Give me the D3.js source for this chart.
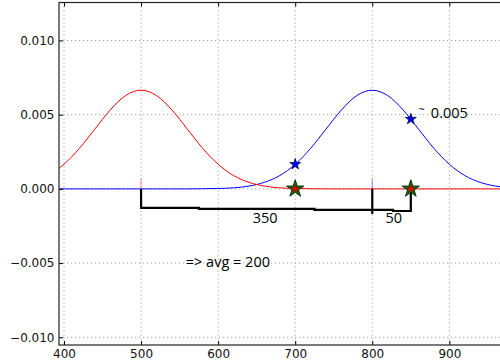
<!DOCTYPE html>
<html>
<head>
<meta charset="utf-8">
<script src="https://cdn.jsdelivr.net/npm/d3@7"></script>
<style>
  body { margin: 0; background: white; }
</style>
</head>
<body>
<svg id="chart" width="500" height="364"></svg>
<script>
const XS = [380, 400, 420, 440, 460, 480, 500, 520, 540, 560, 580, 600, 620, 640, 660, 680,
  700, 720, 740, 760, 780, 800, 820, 840, 860, 880, 900, 920, 940, 960, 980];
const RED_Y = [0.00090, 0.00166, 0.00273, 0.00403, 0.00532, 0.00629, 0.00665, 0.00629, 0.00532,
  0.00403, 0.00273, 0.00166, 0.00090, 0.00044, 0.00019, 0.00007, 0.00003, 0.00001,
  0, 0, 0, 0, 0, 0, 0, 0, 0, 0, 0, 0, 0];
const BLUE_Y = [0, 0, 0, 0, 0, 0, 0, 0, 0, 0, 0.00001, 0.00003, 0.00007, 0.00019, 0.00044,
  0.00090, 0.00166, 0.00273, 0.00403, 0.00532, 0.00629, 0.00665, 0.00629, 0.00532, 0.00403,
  0.00273, 0.00166, 0.00090, 0.00044, 0.00019, 0.00007];

const X_TICKS = [400, 500, 600, 700, 800, 900];
const Y_TICKS = [-0.010, -0.005, 0, 0.005, 0.010];

const MEANS = [500, 800];
const MEAN_COLORS = ['red', 'blue'];
const SAMPLE_X = [700, 850];
const SAMPLE_Y = [0.00166, 0.0047];

// hand drawn brackets under the axis (data units)
const BRACKET_A = [[500, 0], [500, -0.00128], [575, -0.00128], [575, -0.00135],
  [725, -0.00135], [725, -0.00142], [800, -0.00142]];
const BRACKET_MID = [[800, 0], [800, -0.00169]];
const BRACKET_B = [[800, -0.00142], [827, -0.00142], [827, -0.00149], [850, -0.00149], [850, 0]];

class GaussChart {
  constructor(options) {
    this._svg = d3.select(`#${ options.containerId }`);
    this._left = 59;
    this._right = 511;
    this._top = 2.5;
    this._bottom = 345;
  }

  init() {
    this.x = d3.scaleLinear().domain([393.5, 980]).range([this._left, this._right]);
    this.y = d3.scaleLinear().domain([-0.01052, 0.01256]).range([this._bottom, this._top]);

    this._svg.append('defs').append('clipPath').attr('id', 'plot')
      .append('rect')
      .attr('x', this._left).attr('y', this._top)
      .attr('width', this._right - this._left).attr('height', this._bottom - this._top);

    this.drawGrid();
    this.drawCurve(BLUE_Y, 'blue');
    this.drawCurve(RED_Y, 'red');
    this.drawMeans();
    this.drawBrackets();
    this.drawStars();
    this.drawAxes();
    this.drawNotes();
  }

  drawGrid() {
    const g = this._svg.append('g')
      .attr('stroke', '#8a8a8a')
      .attr('stroke-width', 0.8)
      .attr('stroke-dasharray', '1.2,2.8');

    g.selectAll('.vx').data(X_TICKS).join('line')
      .attr('x1', d => this.x(d)).attr('x2', d => this.x(d))
      .attr('y1', this._top).attr('y2', this._bottom);

    g.selectAll('.hy').data(Y_TICKS).join('line')
      .attr('x1', this._left).attr('x2', this._right)
      .attr('y1', d => this.y(d)).attr('y2', d => this.y(d));
  }

  drawCurve(values, color) {
    const line = d3.line()
      .x((d, i) => this.x(XS[i]))
      .y(d => this.y(d))
      .curve(d3.curveMonotoneX);

    this._svg.append('path')
      .datum(values)
      .attr('clip-path', 'url(#plot)')
      .attr('fill', 'none')
      .attr('stroke', color)
      .attr('stroke-width', 1)
      .attr('d', line);
  }

  drawMeans() {
    this._svg.selectAll('.mean').data(MEANS).join('line')
      .attr('x1', d => this.x(d)).attr('x2', d => this.x(d))
      .attr('y1', this.y(0)).attr('y2', this.y(0.00068))
      .attr('stroke', (d, i) => MEAN_COLORS[i])
      .attr('stroke-opacity', 0.45)
      .attr('stroke-width', 1);
  }

  drawBrackets() {
    const line = d3.line().x(d => this.x(d[0])).y(d => this.y(d[1]));
    [BRACKET_A, BRACKET_MID, BRACKET_B].forEach(pts => {
      this._svg.append('path')
        .attr('d', line(pts))
        .attr('fill', 'none')
        .attr('stroke', 'black')
        .attr('stroke-width', 2.2);
    });
  }

  drawStars() {
    const star = size => d3.symbol(d3.symbolStar, size)();

    SAMPLE_X.forEach(v => {
      const t = `translate(${ this.x(v) },${ this.y(0) })`;
      this._svg.append('path').attr('d', star(92)).attr('transform', t)
        .attr('fill', '#0a7a0a').attr('stroke', '#0b2e0b').attr('stroke-width', 1);
      this._svg.append('path').attr('d', star(22)).attr('transform', t)
        .attr('fill', 'red').attr('stroke', '#7a0000').attr('stroke-width', 0.5);
    });

    SAMPLE_X.forEach((v, i) => {
      this._svg.append('path').attr('d', star(38))
        .attr('transform', `translate(${ this.x(v) },${ this.y(SAMPLE_Y[i]) })`)
        .attr('fill', 'blue').attr('stroke', '#000033').attr('stroke-width', 0.7);
    });
  }

  drawAxes() {
    const font = g => g.attr('font-family', '"DejaVu Sans", sans-serif').attr('font-size', 12);
    const fmt = d3.format('.3f');

    const left = this._svg.append('g')
      .attr('transform', `translate(${ this._left },0)`)
      .call(d3.axisLeft(this.y).tickValues(Y_TICKS).tickFormat(fmt)
        .tickSize(-4).tickSizeOuter(0).tickPadding(4.5))
      .call(font);

    const bottom = this._svg.append('g')
      .attr('transform', `translate(0,${ this._bottom })`)
      .call(d3.axisBottom(this.x).tickValues(X_TICKS)
        .tickSize(-4).tickSizeOuter(0).tickPadding(4.5))
      .call(font);

    const top = this._svg.append('g')
      .attr('transform', `translate(0,${ this._top })`)
      .call(d3.axisTop(this.x).tickValues(X_TICKS).tickFormat('')
        .tickSize(-4).tickSizeOuter(0));

    [left, bottom, top].forEach(g => {
      g.select('.domain').remove();
      g.selectAll('line').attr('stroke', 'black');
      g.selectAll('text').attr('fill', '#111');
    });

    this._svg.append('rect')
      .attr('x', this._left).attr('y', this._top)
      .attr('width', this._right - this._left).attr('height', this._bottom - this._top)
      .attr('fill', 'none').attr('stroke', '#222').attr('stroke-width', 1.2);
  }

  drawNotes() {
    const note = (txt, xv, yv, anchor, size) => this._svg.append('text')
      .attr('x', this.x(xv)).attr('y', this.y(yv))
      .attr('text-anchor', anchor)
      .attr('font-family', '"Open Sans", sans-serif')
      .attr('font-size', size)
      .attr('fill', 'black')
      .text(txt);

    note('350', 661, -0.00229, 'middle', 14.5);
    note('50', 828, -0.00229, 'middle', 14.5);
    note('=> avg = 200', 558, -0.00527, 'start', 14.5);
    note('~', 860, 0.0051, 'start', 11);
    note('0.005', 876, 0.00477, 'start', 14.5);
  }
}

new GaussChart({ containerId: 'chart' }).init();
</script>
</body>
</html>
